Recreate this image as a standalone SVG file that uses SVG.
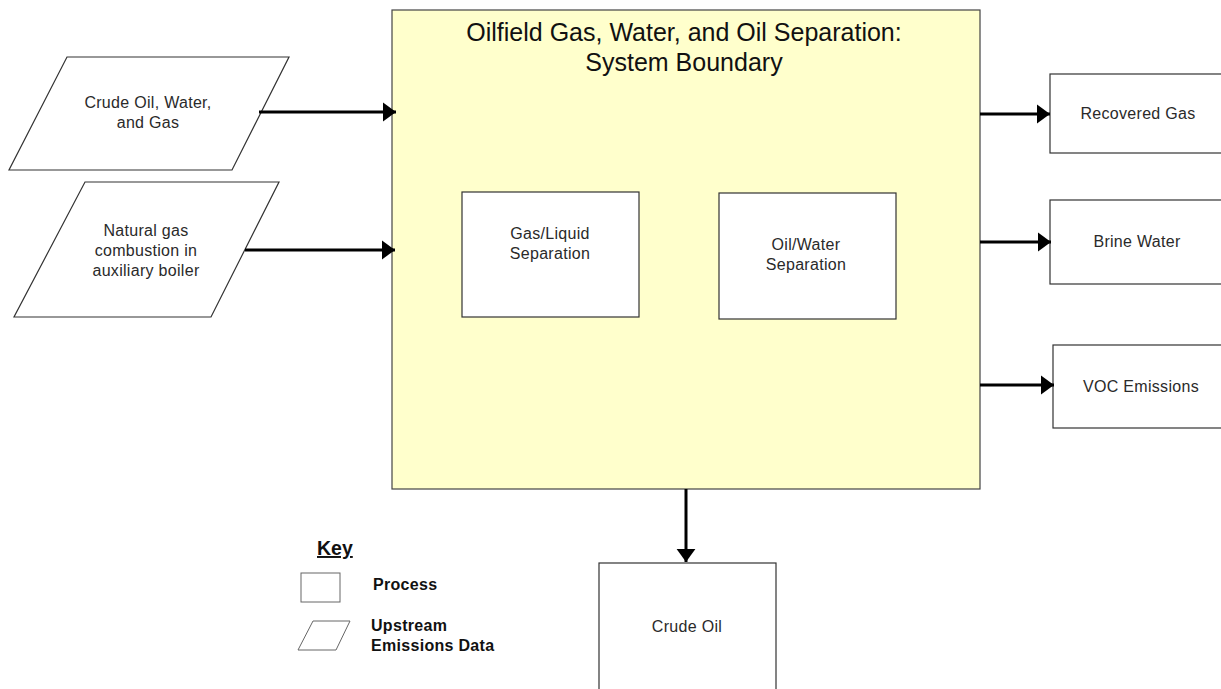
<svg xmlns="http://www.w3.org/2000/svg" width="1221" height="689" viewBox="0 0 1221 689">
<style>
.box{fill:#ffffff;stroke:#333333;stroke-width:1.2}
.t{font-family:"Liberation Sans",Arial,sans-serif;font-size:16px;letter-spacing:0.3px;fill:#2a2a2a;text-anchor:middle}
.k{font-family:"Liberation Sans",Arial,sans-serif;font-size:16px;letter-spacing:0.3px;font-weight:bold;fill:#111111}
.conn{stroke:#000000;stroke-width:3;fill:none}
</style>
<defs>
<marker id="ah" markerWidth="4.5" markerHeight="6.5" refX="4.5" refY="3.25" orient="auto" markerUnits="strokeWidth">
<path d="M0,0 L4.5,3.25 L0,6.5 Z" fill="#000000"/>
</marker>
</defs>
<rect width="1221" height="689" fill="#ffffff"/>
<g id="boundary">
<rect x="392" y="10" width="588" height="479" fill="#ffffcc" stroke="#444444" stroke-width="1.2"/>
<text x="684" y="41" font-family="Liberation Sans, Arial, sans-serif" font-size="25" fill="#111111" text-anchor="middle">Oilfield Gas, Water, and Oil Separation:</text>
<text x="684" y="71" font-family="Liberation Sans, Arial, sans-serif" font-size="25" fill="#111111" text-anchor="middle">System Boundary</text>
</g>
<g id="input-crude">
<polygon class="box" points="67,57 289,57 232,170 9,170"/>
<text class="t" x="148" y="108">Crude Oil, Water,</text>
<text class="t" x="148" y="128">and Gas</text>
</g>
<g id="input-natgas">
<polygon class="box" points="85,182 279,182 211,317 14,317"/>
<text class="t" x="146" y="236">Natural gas</text>
<text class="t" x="146" y="256">combustion in</text>
<text class="t" x="146" y="276">auxiliary boiler</text>
</g>
<g id="gas-liquid">
<rect class="box" x="462" y="192" width="177" height="125"/>
<text class="t" x="550" y="239">Gas/Liquid</text>
<text class="t" x="550" y="259">Separation</text>
</g>
<g id="oil-water">
<rect class="box" x="719" y="193" width="177" height="126"/>
<text class="t" x="806" y="250">Oil/Water</text>
<text class="t" x="806" y="270">Separation</text>
</g>
<g id="recovered-gas">
<rect class="box" x="1050" y="74" width="180" height="79"/>
<text class="t" x="1138" y="119">Recovered Gas</text>
</g>
<g id="brine-water">
<rect class="box" x="1050" y="200" width="180" height="84"/>
<text class="t" x="1137" y="247">Brine Water</text>
</g>
<g id="voc">
<rect class="box" x="1053" y="345" width="180" height="83"/>
<text class="t" x="1141" y="392">VOC Emissions</text>
</g>
<g id="crude-oil">
<rect class="box" x="599" y="563" width="177" height="140"/>
<text class="t" x="687" y="632">Crude Oil</text>
</g>
<g id="connectors">
<line class="conn" x1="259" y1="112" x2="396" y2="112" marker-end="url(#ah)"/>
<line class="conn" x1="245" y1="250" x2="395" y2="250" marker-end="url(#ah)"/>
<line class="conn" x1="980" y1="114" x2="1050" y2="114" marker-end="url(#ah)"/>
<line class="conn" x1="980" y1="242" x2="1051" y2="242" marker-end="url(#ah)"/>
<line class="conn" x1="980" y1="385" x2="1054" y2="385" marker-end="url(#ah)"/>
<line class="conn" x1="686" y1="489" x2="686" y2="562" marker-end="url(#ah)"/>
</g>
<g id="key">
<text x="317" y="555" font-family="Liberation Sans, Arial, sans-serif" font-size="19.5" font-weight="bold" fill="#111111" text-decoration="underline">Key</text>
<rect x="301" y="573" width="39" height="29" fill="#ffffff" stroke="#666666" stroke-width="1"/>
<text class="k" x="373" y="590">Process</text>
<polygon points="313,621 350,621 336,650 298,650" fill="#ffffff" stroke="#666666" stroke-width="1"/>
<text class="k" x="371" y="631">Upstream</text>
<text class="k" x="371" y="651">Emissions Data</text>
</g>
</svg>
